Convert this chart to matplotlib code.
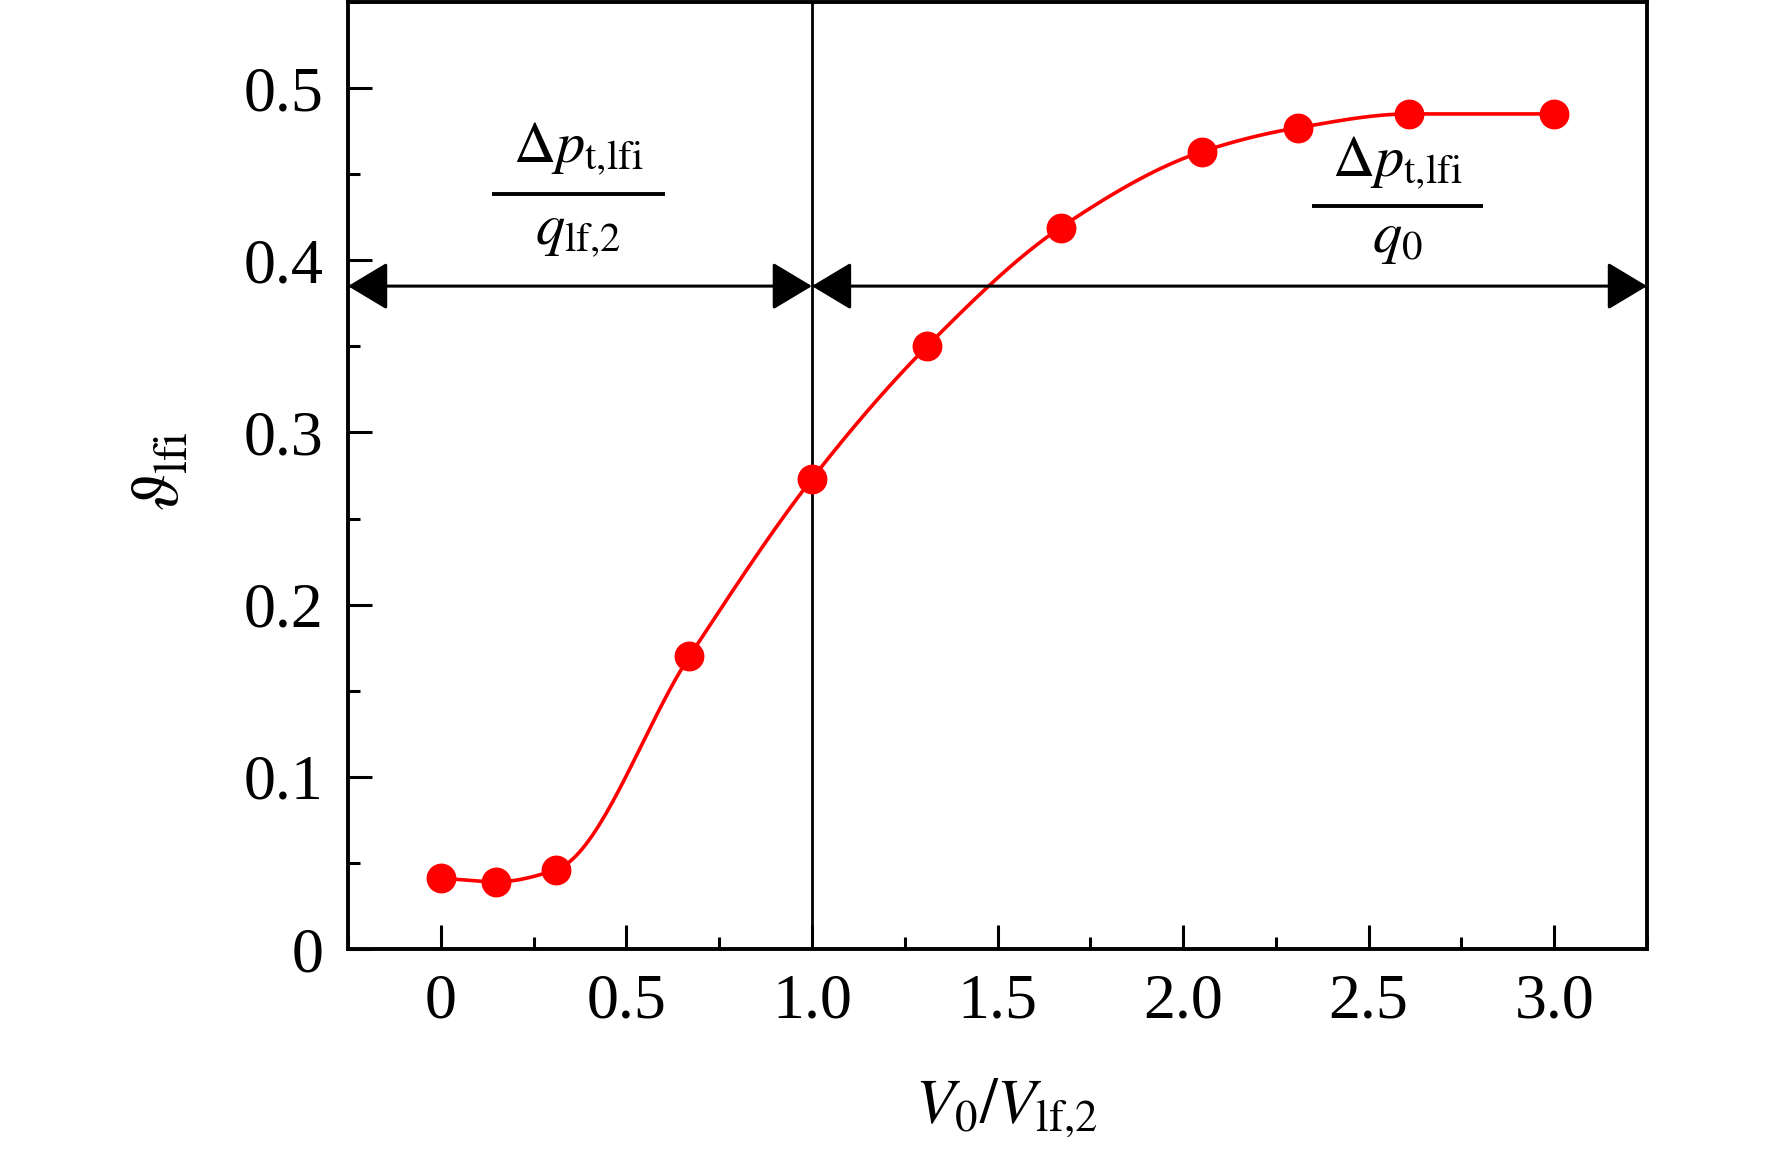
import numpy as np
import matplotlib
matplotlib.use("Agg")
import matplotlib.pyplot as plt
from matplotlib.patches import FancyArrowPatch, ArrowStyle
from matplotlib.ticker import MultipleLocator, FuncFormatter

plt.rcParams['font.family'] = ['Liberation Serif', 'DejaVu Serif']
plt.rcParams['mathtext.fontset'] = 'stix'

# ---- data ----
speed_ratio = [0.0, 0.15, 0.31, 0.67, 1.0, 1.31, 1.67, 2.05, 2.31, 2.61, 3.0]
theta_lfi = [0.041, 0.039, 0.046, 0.170, 0.273, 0.350, 0.419, 0.463, 0.477, 0.485, 0.485]
divider_x = 1.0
arrow_y = 0.385
x_ticks = [0, 0.5, 1.0, 1.5, 2.0, 2.5, 3.0]
y_ticks = [0, 0.1, 0.2, 0.3, 0.4, 0.5]
x_limits = (-0.25, 3.25)
y_limits = (0, 0.55)


def pchip_curve(xs, ys, n=40):
    """Monotone (Fritsch-Carlson) cubic through the data, used only to draw a smooth line."""
    x = np.asarray(xs, float)
    y = np.asarray(ys, float)
    h = np.diff(x)
    d = np.diff(y) / h
    m = np.zeros_like(y)
    for k in range(1, len(x) - 1):
        if d[k - 1] * d[k] <= 0:
            m[k] = 0.0
        else:
            w1 = 2 * h[k] + h[k - 1]
            w2 = h[k] + 2 * h[k - 1]
            m[k] = (w1 + w2) / (w1 / d[k - 1] + w2 / d[k])
    m[0] = d[0] * 0.5
    m[-1] = d[-1] * 0.5
    ox, oy = [], []
    for k in range(len(x) - 1):
        t = np.linspace(0, 1, n, endpoint=False)
        h00 = 2 * t ** 3 - 3 * t ** 2 + 1
        h10 = t ** 3 - 2 * t ** 2 + t
        h01 = -2 * t ** 3 + 3 * t ** 2
        h11 = t ** 3 - t ** 2
        ox.append(x[k] + t * h[k])
        oy.append(h00 * y[k] + h10 * h[k] * m[k] + h01 * y[k + 1] + h11 * h[k] * m[k + 1])
    ox.append([x[-1]])
    oy.append([y[-1]])
    return np.concatenate(ox), np.concatenate(oy)


fig = plt.figure(figsize=(17.72, 11.57), dpi=100)
ax = fig.add_axes([348 / 1772, 1 - 949 / 1157, 1299 / 1772, 947 / 1157])

sx, sy = pchip_curve(speed_ratio, theta_lfi)
ax.plot(sx, sy, color='#ff0000', lw=2.6, zorder=3)
ax.plot(speed_ratio, theta_lfi, 'o', color='#ff0000', ms=21.5, mec='none', zorder=4)

ax.axvline(divider_x, color='black', lw=2.0, zorder=2)

style = ArrowStyle('<|-|>', head_length=25.0, head_width=15.0)
for a, b in [(x_limits[0], divider_x), (divider_x, x_limits[1])]:
    arr = FancyArrowPatch((a, arrow_y), (b, arrow_y), arrowstyle=style,
                          mutation_scale=1.0, color='black', lw=2.2,
                          shrinkA=0, shrinkB=0, zorder=5, clip_on=False)
    ax.add_patch(arr)

# fractions
fs_frac = 42
ax.text(0.37, 0.4576, r'$\Delta p_{\mathrm{t{,}lfi}}$', ha='center', va='baseline', fontsize=fs_frac)
ax.plot([0.137, 0.603], [0.4383, 0.4383], color='black', lw=2.8, solid_capstyle='butt')
ax.text(0.37, 0.410, r'$q_{\mathrm{lf{,}2}}$', ha='center', va='baseline', fontsize=fs_frac)

ax.text(2.578, 0.4495, r'$\Delta p_{\mathrm{t{,}lfi}}$', ha='center', va='baseline', fontsize=fs_frac)
ax.plot([2.347, 2.808], [0.4315, 0.4315], color='black', lw=2.8, solid_capstyle='butt')
ax.text(2.578, 0.405, r'$q_{0}$', ha='center', va='baseline', fontsize=fs_frac)

ax.set_xlim(*x_limits)
ax.set_ylim(*y_limits)
ax.set_xticks(x_ticks)
ax.set_yticks(y_ticks)
ax.xaxis.set_minor_locator(MultipleLocator(0.25))
ax.yaxis.set_minor_locator(MultipleLocator(0.05))
fmt = FuncFormatter(lambda v, p: '0' if abs(v) < 1e-9 else f'{v:.1f}')
ax.xaxis.set_major_formatter(fmt)
ax.yaxis.set_major_formatter(fmt)
ax.tick_params(which='both', direction='in', width=2.2, labelsize=46)
ax.tick_params(which='major', length=17, pad=18)
ax.tick_params(which='minor', length=8.5)
ax.tick_params(axis='x', which='both', top=False)
ax.tick_params(axis='y', which='both', right=False)
for s in ax.spines.values():
    s.set_linewidth(2.8)

ax.set_xlabel(r'$V_0/V_{\mathrm{lf{,}2}}$', fontsize=46)
ax.xaxis.set_label_coords(0.5066, -0.135)
ax.set_ylabel(r'$\vartheta_{\mathrm{lfi}}$', fontsize=48)
ax.yaxis.set_label_coords(-0.12, 0.504)

fig.savefig('out.png', dpi=100)
